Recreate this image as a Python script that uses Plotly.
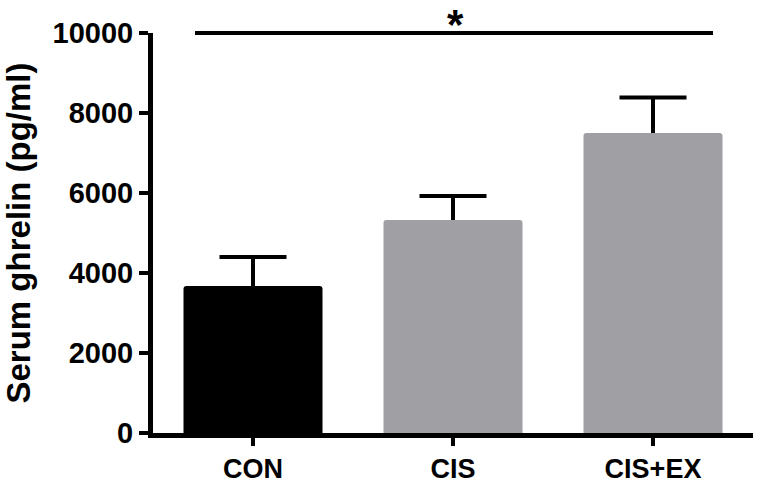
import plotly.graph_objects as go

categories = ["CON", "CIS", "CIS+EX"]
means = [3675, 5325, 7500]
errors = [725, 600, 890]
colors = ["#000000", "#a09fa4", "#a09fa4"]
y_ticks = [0, 2000, 4000, 6000, 8000, 10000]
y_max = 10000
sig_y = 10000
sig_x = [-0.29, 2.30]
sig_label = "*"

FONT = "Liberation Sans, Arial, sans-serif"
CAP = 0.1675

xs = list(range(len(categories)))

fig = go.Figure()
fig.add_trace(go.Bar(
    x=xs, y=means, width=0.695,
    marker=dict(color=colors, line=dict(width=0), cornerradius=3),
    showlegend=False, hoverinfo="skip",
))

# upper-only error bars (stem + cap)
ex, ey = [], []
for i, (m, e) in enumerate(zip(means, errors)):
    ex += [i, i, None, i - CAP, i + CAP, None]
    ey += [m, m + e, None, m + e, m + e, None]
fig.add_trace(go.Scatter(x=ex, y=ey, mode="lines",
                         line=dict(color="#000000", width=4),
                         showlegend=False, hoverinfo="skip"))

fig.add_shape(type="line", xref="x", yref="paper", x0=sig_x[0], x1=sig_x[1],
              y0=sig_y / y_max, y1=sig_y / y_max,
              line=dict(color="#000000", width=4))
fig.add_annotation(x=1.01, y=sig_y / y_max + 0.02, xref="x", yref="paper",
                   text=f"<b>{sig_label}</b>", showarrow=False,
                   font=dict(family=FONT, size=42, color="#000000"),
                   xanchor="center", yanchor="middle", borderpad=0)

fig.update_layout(
    width=761, height=484,
    margin=dict(l=153, r=8, t=33, b=51),
    paper_bgcolor="white", plot_bgcolor="white",
    font=dict(family=FONT, color="#000000"),
)
fig.update_xaxes(
    range=[-0.5, 2.5], tickvals=xs, ticktext=[f"<b>{c}</b>" for c in categories],
    showline=True, linecolor="#000000", linewidth=5,
    ticks="outside", ticklen=8, tickwidth=4, tickcolor="#000000",
    tickfont=dict(family=FONT, size=27, color="#000000"),
    showgrid=False, zeroline=False, automargin=False,
)
fig.update_yaxes(
    range=[0, y_max], tickvals=y_ticks, ticktext=[f"<b>{v}</b>" for v in y_ticks],
    showline=True, linecolor="#000000", linewidth=5,
    ticks="outside", ticklen=9, tickwidth=4, tickcolor="#000000",
    tickfont=dict(family=FONT, size=29, color="#000000"),
    title=dict(text="<b>Serum ghrelin (pg/ml)</b>", font=dict(family=FONT, size=33, color="#000000"),
               standoff=14),
    showgrid=False, zeroline=False, automargin=False,
)
fig.write_html("out.html", config={"displayModeBar": False},
               post_script="document.body.style.margin='0';document.body.style.padding='0';")
